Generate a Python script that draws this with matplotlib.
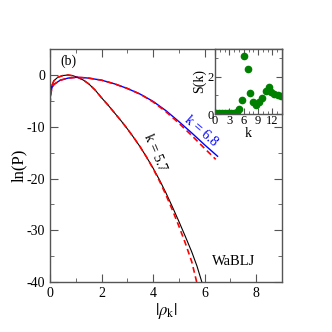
import matplotlib
matplotlib.use("Agg")
import matplotlib.pyplot as plt
import numpy as np

plt.rcParams['font.family'] = ['Liberation Serif', 'DejaVu Serif']
plt.rcParams['mathtext.fontset'] = 'stix'
plt.rcParams['axes.unicode_minus'] = False

# k = 5.7 simulation (black) and Gaussian fit (red dashed)
x_k57 = [0.0, 0.03, 0.08, 0.15, 0.3, 0.5, 0.7, 0.9, 1.1, 1.3, 1.5, 1.75, 2.0, 2.25, 2.5, 2.75, 3.0, 3.25,
         3.5, 3.75, 4.0, 4.25, 4.5, 4.75, 5.0, 5.25, 5.5, 5.7, 5.89]
y_k57 = [-4.7, -3.0, -1.9, -1.1, -0.45, -0.1, 0.0, -0.15, -0.5, -1.0, -1.7, -2.9, -4.4, -5.8, -7.3, -8.8, -10.4, -12.1,
         -13.9, -15.9, -18.0, -20.3, -22.8, -25.5, -28.3, -31.2, -34.2, -36.9, -40.0]
x_k57_fit = [0.0, 0.03, 0.08, 0.15, 0.3, 0.5, 0.7, 0.9, 1.1, 1.3, 1.5, 1.75, 2.0, 2.25, 2.5, 2.75, 3.0, 3.25,
             3.5, 3.75, 4.0, 4.25, 4.5, 4.75, 5.0, 5.25, 5.5, 5.69]
y_k57_fit = [-5.6, -3.3, -2.0, -1.15, -0.45, -0.1, 0.0, -0.15, -0.5, -1.0, -1.7, -2.9, -4.4, -5.8, -7.3, -8.8, -10.4, -12.1,
             -13.9, -15.9, -18.1, -20.5, -23.2, -26.1, -29.2, -32.5, -36.1, -40.0]

# k = 6.8 simulation (blue) and Gaussian fit (red dashed)
x_k68 = [0.0, 0.03, 0.08, 0.15, 0.4, 0.7, 1.0, 1.25, 1.5, 2.0, 2.5, 3.0, 3.5, 4.0, 4.5, 5.0, 5.5, 6.0, 6.5]
y_k68 = [-5.0, -3.4, -2.4, -1.8, -1.0, -0.6, -0.45, -0.5, -0.6, -1.0, -1.7, -2.6, -3.7, -5.1, -6.9, -9.0, -11.2, -13.5, -15.7]
x_k68_fit = [0.0, 0.03, 0.08, 0.15, 0.4, 0.7, 1.0, 1.25, 1.5, 2.0, 2.5, 3.0, 3.5, 4.0, 4.5, 5.0, 5.5, 6.0, 6.43]
y_k68_fit = [-5.8, -3.6, -2.5, -1.85, -1.0, -0.6, -0.45, -0.5, -0.6, -1.0, -1.7, -2.6, -3.7, -5.2, -7.1, -9.3, -11.7, -14.2, -16.3]

# Inset: structure factor
k_vals = [0.3, 0.9, 1.5, 2.1, 2.7, 3.3, 3.9, 4.5, 5.0, 5.7, 6.15, 6.85, 7.35, 7.95, 8.6, 9.2, 9.9, 10.6, 11.2, 11.8, 12.4, 13.1, 13.7]
S_vals = [0.05, 0.05, 0.05, 0.05, 0.05, 0.05, 0.06, 0.1, 0.27, 0.76, 3.13, 2.41, 1.13, 0.62, 0.5, 0.62, 0.88, 1.26, 1.45, 1.2, 1.1, 1.02, 0.97]

fig = plt.figure(figsize=(3.32, 3.32), dpi=100)
ax = fig.add_axes([0.1506, 0.1506, 0.6988, 0.7014])

dash = (0, (3.5, 2.2))
ax.plot(x_k57, y_k57, color='black', lw=0.8)
ax.plot(x_k57_fit, y_k57_fit, color='red', lw=1.2, ls=dash)
ax.plot(x_k68, y_k68, color='blue', lw=1.0)
ax.plot(x_k68_fit, y_k68_fit, color='red', lw=1.2, ls=dash)

ax.set_xlim(0, 9)
ax.set_ylim(-40, 5)
ax.set_xticks([0, 2, 4, 6, 8])
ax.set_xticks([1, 3, 5, 7], minor=True)
ax.set_yticks([-40, -30, -20, -10, 0])
ax.set_yticks([-35, -25, -15, -5], minor=True)
spine_c = '#555555'
for s in ax.spines.values():
    s.set_color(spine_c)
    s.set_linewidth(1.0)
ax.tick_params(which='both', direction='in', top=True, right=True, color=spine_c, labelsize=10)
ax.tick_params(which='major', length=6)
ax.tick_params(which='minor', length=3)
ax.set_xlabel(r'$|\rho_{\rm k}|$', fontsize=12, labelpad=1)
ax.set_ylabel('ln(P)', fontsize=12, labelpad=0)

ax.text(0.4, 2.7, '(b)', fontsize=10, ha='left', va='center')
ax.text(4.08, -14.9, 'k = 5.7', fontsize=10, rotation=-67, ha='center', va='center', color='black')
ax.text(5.85, -10.9, 'k = 6.8', fontsize=10, rotation=-41, ha='center', va='center', color='blue')
ax.text(7.13, -36.0, 'WaBLJ', fontsize=10.5, ha='center', va='center')

ins = fig.add_axes([0.6476, 0.6566, 0.2018, 0.196])
ins.plot(k_vals, S_vals, 'o', color='#008000', ms=4.5, mec='#008000')
ins.set_xlim(0, 14)
ins.set_ylim(0, 3.5)
ins.set_xticks([0, 3, 6, 9, 12])
ins.set_xticks(np.arange(0, 15, 1), minor=True)
ins.set_yticks([0, 2])
ins.set_yticks([1, 3], minor=True)
for s in ins.spines.values():
    s.set_color(spine_c)
    s.set_linewidth(1.0)
ins.tick_params(which='both', direction='in', top=True, right=True, color=spine_c, labelsize=9, pad=1)
ins.tick_params(which='major', length=4)
ins.tick_params(which='minor', length=2)
ins.set_xlabel('k', fontsize=10, labelpad=0)
ins.set_ylabel('S(k)', fontsize=10, labelpad=1)

fig.savefig('out.png', dpi=100)
